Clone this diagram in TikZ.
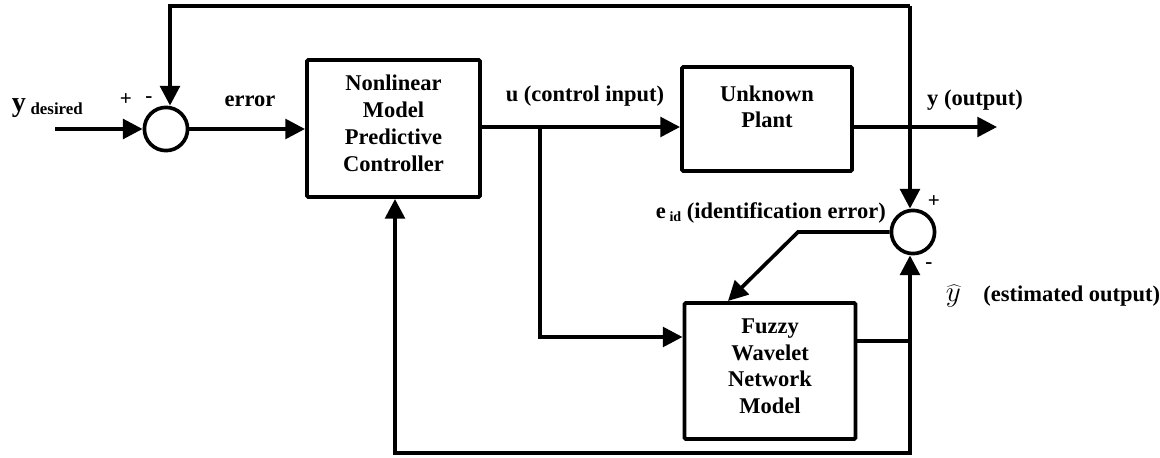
\documentclass[tikz,border=0pt]{standalone}
\usepackage{fontspec}
\setmainfont{Liberation Serif}
\usetikzlibrary{arrows.meta}
\newcommand{\lifted}[2]{\raisebox{#1}[\height][\depth]{\begin{tabular}{@{}c@{}}#2\end{tabular}}}
\begin{document}
\begin{tikzpicture}[x=0.025cm,y=-0.025cm,
  line width=2.6pt,
  blk/.style={draw,line width=2.8pt,rounded corners=1pt,align=center,font=\fontsize{16}{19}\selectfont\bfseries,inner sep=0pt},
  sumc/.style={draw,circle,line width=2.6pt,minimum size=1.08cm,inner sep=0pt},
  arr/.style={-{Triangle[length=14pt,width=14pt]}},
  lbl/.style={font=\fontsize{16}{18}\selectfont\bfseries,inner sep=0pt},
  sgn/.style={font=\fontsize{15}{15}\selectfont\bfseries,inner sep=0pt}]
\useasboundingbox (0,0) rectangle (1160,458);
% blocks
\node[blk,minimum width=4.325cm,minimum height=3.425cm] (nmpc) at (393.5,128.5) {\lifted{2pt}{Nonlinear\\Model\\Predictive\\Controller}};
\node[blk,minimum width=4.25cm,minimum height=2.6cm] (plant) at (767,119) {\lifted{7pt}{Unknown\\Plant}};
\node[blk,minimum width=4.275cm,minimum height=3.4cm] (fwn) at (770,371) {\lifted{2pt}{Fuzzy\\Wavelet\\Network\\Model}};
\node[sumc] (s1) at (166,129) {};
\node[sumc] (s2) at (913,232) {};
% coordinates
\coordinate (in) at (55,129);
\coordinate (out) at (997,127);
\coordinate (tl) at (170,6);
\coordinate (tr) at (910,6);
\coordinate (br) at (910,453);
\coordinate (bl) at (395,453);
\coordinate (ub) at (540,127);
\coordinate (ud) at (540,337);
\coordinate (fo) at (910,341);
\coordinate (ek) at (798,232);
\coordinate (ea) at (728,301);
% connectors
\draw[arr] (in) -- (s1.west);
\draw[arr] (s1.east) -- (nmpc.west |- s1.east);
\draw[arr] (nmpc.east |- ub) -- (plant.west |- ub);
\draw[arr] (plant.east |- out) -- (out);
\draw[arr] (tr) -- (tl) -- (s1.north -| tl);
\draw[arr] (tr) -- (s2.north -| tr);
\draw[arr] (ub) -- (ud) -- (fwn.west |- ud);
\draw[arr] (fwn.east |- fo) -- (fo) -- (s2.south -| fo);
\draw[arr] (fo) -- (br) -- (bl) -- (nmpc.south -| bl);
\draw[arr,line join=miter] (s2.west) -- (ek) -- (ea);
% labels
\node[anchor=base west,inner sep=0pt] (yd) at (10,112) {\fontsize{20}{20}\selectfont\bfseries y\,\raisebox{-1.5pt}{\fontsize{12}{12}\selectfont desired}};
\node[sgn] (p1) at (126,100) {+};
\node[sgn] (m1) at (149,100) {-};
\node[lbl] (err) at (250,101) {error};
\node[lbl] (ul) at (585,96) {u (control input)};
\node[lbl] (yo) at (975,100) {y (output)};
\node[anchor=base west,inner sep=0pt] (eid) at (654,219) {\fontsize{16}{18}\selectfont\bfseries e\,\raisebox{-2pt}{\fontsize{10}{10}\selectfont id} (identification error)};
\node[sgn] (p2) at (934,202) {+};
\node[sgn] (m2) at (929,266) {-};
\node[anchor=base west,inner sep=0pt] (yh) at (944,302) {\fontsize{22}{24}\selectfont$\widehat{y}$\hspace{16pt}\fontsize{16}{18}\selectfont\bfseries(estimated output)};
\end{tikzpicture}
\end{document}
